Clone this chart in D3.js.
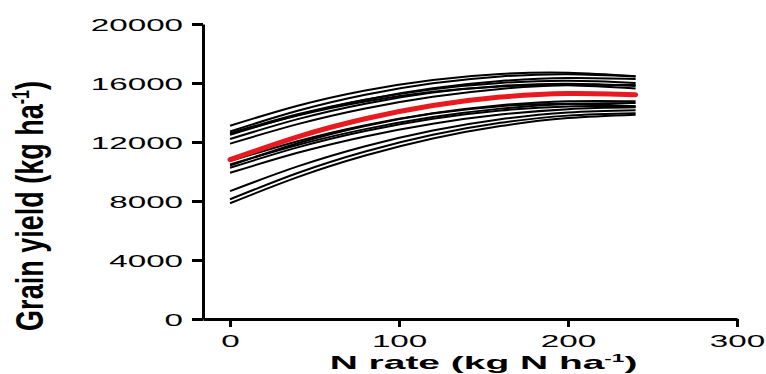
<!DOCTYPE html>
<html>
<head>
<meta charset="utf-8">
<script src="https://cdn.jsdelivr.net/npm/d3@7"></script>
<style>
  html, body { margin: 0; padding: 0; background: #fff; }
  svg { display: block; }
  text { font-family: "Liberation Sans", Arial, sans-serif; fill: #000; }
</style>
</head>
<body>
<div id="chart"></div>
<script>
// --- Data ---
const nRates = [0, 40, 80, 120, 160, 200, 240];

// individual site-year response curves, kg ha-1 at each N rate
const siteYields = [
  [13100, 14457, 15494, 16211, 16610, 16690, 16451],
  [12715, 14114, 15202, 15979, 16445, 16600, 16445],
  [12600, 13878, 14872, 15582, 16008, 16150, 16008],
  [12550, 13793, 14744, 15402, 15768, 15841, 15621],
  [12490, 13820, 14871, 15641, 16131, 16341, 16271],
  [12200, 13550, 14600, 15350, 15800, 15950, 15800],
  [11885, 13212, 14274, 15070, 15601, 15867, 15867],
  [10700, 12055, 13140, 13953, 14495, 14766, 14766],
  [10470, 11797, 12872, 13694, 14263, 14579, 14642],
  [10400, 11912, 13088, 13928, 14432, 14600, 14432],
  [10250, 11638, 12749, 13582, 14138, 14415, 14415],
  [9910, 11267, 12377, 13240, 13857, 14227, 14350],
  [8670, 10344, 11714, 12780, 13541, 13998, 14150],
  [8115, 9898, 11357, 12491, 13302, 13788, 13950],
  [7845, 9616, 11079, 12234, 13080, 13619, 13850]
];

// overall fitted response (red)
const meanYield = [10800, 12352, 13576, 14474, 15045, 15290, 15208];

const xTicks = [0, 100, 200, 300];
const yTicks = [0, 4000, 8000, 12000, 16000, 20000];

// --- Layout ---
const W = 766, H = 374;
const X0 = 203, X1 = 737;   // x axis extent in px
const Y0 = 319, Y1 = 24;    // y axis extent in px
const SX = 1.95;            // the figure's text is stretched sideways

const svg = d3.select('#chart').append('svg')
  .attr('width', W).attr('height', H);

const x = d3.scaleLinear().domain([-16, 300]).range([X0, X1]);
const y = d3.scaleLinear().domain([0, 20000]).range([Y0, Y1]);

const line = d3.line()
  .x((d, i) => x(nRates[i]))
  .y(d => y(d))
  .curve(d3.curveNatural);

// curves
svg.append('g')
  .selectAll('path')
  .data(siteYields)
  .join('path')
  .attr('d', line)
  .attr('fill', 'none')
  .attr('stroke', '#000')
  .attr('stroke-width', 2);

svg.append('path')
  .attr('d', line(meanYield))
  .attr('fill', 'none')
  .attr('stroke', '#e8191f')
  .attr('stroke-width', 5)
  .attr('stroke-linecap', 'round');

// x axis
const gx = svg.append('g')
  .attr('transform', `translate(0,${Y0})`)
  .call(d3.axisBottom(x).tickValues(xTicks).tickFormat(d3.format('d'))
    .tickSize(8).tickSizeOuter(0));

// y axis
const gy = svg.append('g')
  .attr('transform', `translate(${X0},0)`)
  .call(d3.axisLeft(y).tickValues(yTicks).tickFormat(d3.format('d'))
    .tickSize(11).tickSizeOuter(0));

[gx, gy].forEach(g => {
  g.select('.domain').attr('stroke', '#000').attr('stroke-width', 3);
  g.selectAll('.tick line').attr('stroke', '#000').attr('stroke-width', 3);
  g.selectAll('.tick text')
    .attr('font-size', 17)
    .attr('font-family', '"Liberation Sans", Arial, sans-serif')
    .attr('fill', '#000');
});

gx.selectAll('.tick text')
  .attr('y', 28).attr('dy', 0)
  .attr('transform', `scale(${SX},1)`);

gy.selectAll('.tick text')
  .attr('x', -20 / SX).attr('dy', '0.36em')
  .attr('transform', `scale(${SX},1)`);

// x title
const xt = svg.append('text')
  .attr('transform', `translate(${(x(0) + x(300)) / 2},369) scale(2.05,1)`)
  .attr('text-anchor', 'middle')
  .attr('font-size', 19)
  .attr('font-weight', 'bold');
xt.append('tspan').text('N rate (kg N ha');
xt.append('tspan').attr('font-size', 11).attr('dy', -7).text('-1');
xt.append('tspan').attr('dy', 7).text(')');

// y title
const yt = svg.append('text')
  .attr('transform', 'translate(43,206) rotate(-90) scale(1,1.44)')
  .attr('text-anchor', 'middle')
  .attr('font-size', 27)
  .attr('font-weight', 'bold');
yt.append('tspan').text('Grain yield (kg ha');
yt.append('tspan').attr('font-size', 16).attr('dy', -10).text('-1');
yt.append('tspan').attr('dy', 10).text(')');
</script>
</body>
</html>
